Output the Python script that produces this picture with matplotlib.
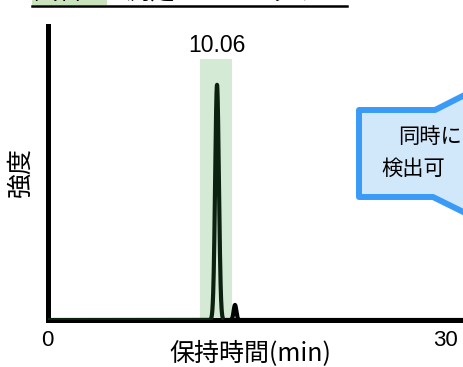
import numpy as np
import matplotlib
matplotlib.use("Agg")
import matplotlib.pyplot as plt
from matplotlib.patches import Polygon, Rectangle
from matplotlib.lines import Line2D
import matplotlib.transforms as mtransforms

plt.rcParams['font.family'] = ['Noto Sans CJK JP', 'DejaVu Sans']

# Peak table (retention time in min, relative intensity, peak sigma in min)
peak_times = [10.06, 11.13]
peak_heights = [100.0, 6.4]
peak_sigmas = [0.11, 0.08]

# Highlighted retention window around the main peak
window_start = 9.05
window_end = 10.95
window_top = 111.0

peak_label = "10.06"
x_tick_labels = ["0", "30"]
x_label = "保持時間(min)"
y_label = "強度"
title_text = "試料2 の測定クロマトグラム"
callout_lines = ["同時に", "検出可"]

W, H = 463, 367
fig = plt.figure(figsize=(W / 100, H / 100), dpi=100)


def fx(px):
    return px / W


def fy(py):
    return 1 - py / H


# Axes: left spine at x=48 px, baseline at y=320 px, top at y=26 px
ax = fig.add_axes([fx(48), fy(320), fx(463 - 48), (320 - 26) / H])
ax.set_xlim(0, 24.7)
ax.set_ylim(0, 125)

t = np.linspace(0, 24.7, 4000)
signal = np.zeros_like(t)
for rt, h, s in zip(peak_times, peak_heights, peak_sigmas):
    signal += h * np.exp(-0.5 * ((t - rt) / s) ** 2)

ax.fill_between([window_start, window_end], 0, window_top,
                color="#d5ead5", lw=0, zorder=1)

main_mask = t < (peak_times[0] + peak_times[1]) / 2
ax.plot(t[main_mask], signal[main_mask], color="#0c2210", lw=3.0,
        solid_capstyle="round", solid_joinstyle="round", zorder=3)
ax.plot(t[~main_mask], signal[~main_mask], color="black", lw=3.0,
        solid_capstyle="round", solid_joinstyle="round", zorder=3)

ax.text(peak_times[0], 116.5, peak_label, ha="center", va="center",
        fontsize=16.5, family=["Liberation Sans"], clip_on=False)

for side in ("top", "right"):
    ax.spines[side].set_visible(False)
for side in ("left", "bottom"):
    ax.spines[side].set_linewidth(3.6)
    ax.spines[side].set_color("black")
    ax.spines[side].set_capstyle("projecting")
ax.set_xticks([])
ax.set_yticks([])

# End labels of the time axis
trans = mtransforms.blended_transform_factory(ax.transAxes, fig.transFigure)
ax.text(-0.001, fy(340), x_tick_labels[0], transform=trans, ha="center",
        va="center", fontsize=16, family=["Liberation Sans"])
ax.text(0.957, fy(340), x_tick_labels[1], transform=trans, ha="center",
        va="center", fontsize=16, family=["Liberation Sans"])

fig.text(fx(250), fy(354), x_label, ha="center", va="center", fontsize=18)
fig.text(fx(21), fy(172), y_label, ha="center", va="center", fontsize=18,
         rotation=90)

# Title strip along the top edge
fig.patches.append(Rectangle((fx(32), fy(4.5)), fx(75), 4.5 / H,
                             transform=fig.transFigure, color="#c9e3bd",
                             lw=0, zorder=0))
fig.text(fx(34), fy(-0.5), title_text, ha="left", va="baseline",
         fontsize=17.5)
fig.lines.append(Line2D([fx(32), fx(347)], [fy(5.5), fy(5.5)],
                        transform=fig.transFigure, color="black", lw=1.8))

# Callout balloon opening to the right
pts = [(359, 110), (435, 110), (520, 67), (520, 240), (433, 197), (359, 197)]
balloon = Polygon([(fx(x), fy(y)) for x, y in pts], closed=True,
                  transform=fig.transFigure, facecolor="#d1e8fb",
                  edgecolor="#3a9bf7", lw=4.3, joinstyle="round", zorder=5)
fig.patches.append(balloon)
fig.text(fx(398.5), fy(137), callout_lines[0], ha="left", va="center",
         fontsize=15.3, zorder=6)
fig.text(fx(381), fy(169), callout_lines[1], ha="left", va="center",
         fontsize=15.3, zorder=6)

fig.savefig("out.png", dpi=100)
